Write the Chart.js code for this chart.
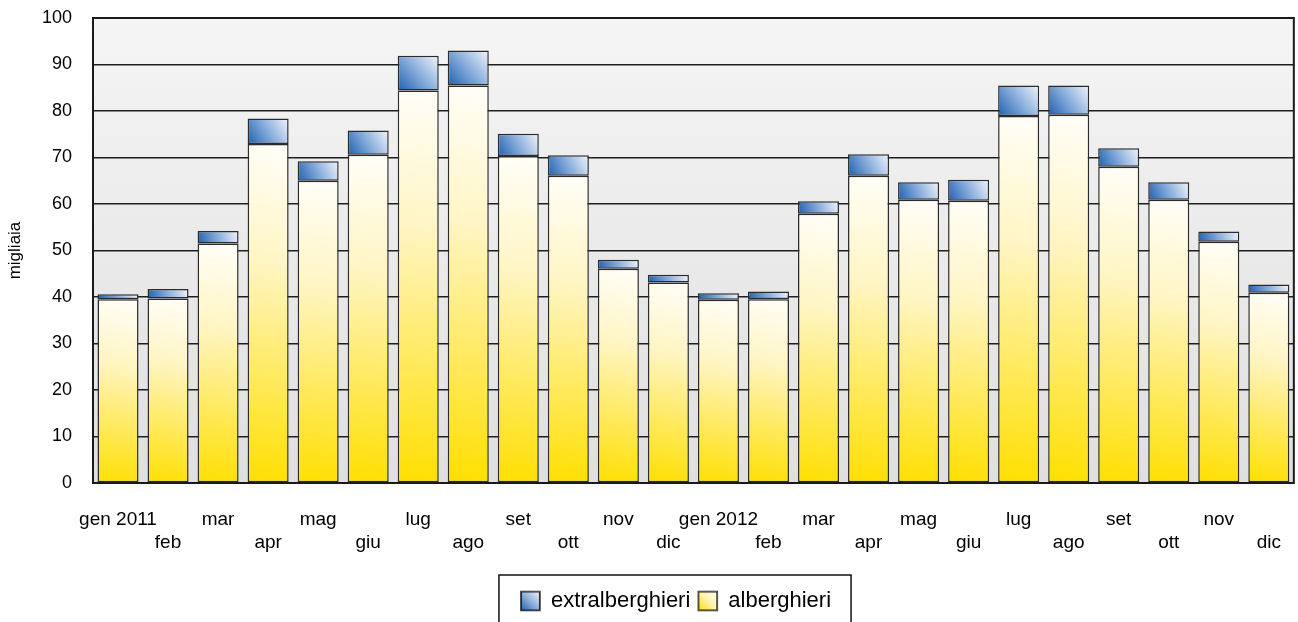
<!DOCTYPE html>
<html lang="it">
<head>
  <meta charset="UTF-8">
  <title>Presenze alberghieri / extralberghieri</title>
  <script src="https://cdn.jsdelivr.net/npm/chart.js"></script>
  <style>
    html, body { margin: 0; padding: 0; background: #fff; }
    .chart-box { width: 1298px; height: 622px; position: relative; }
  </style>
</head>
<body>

<div class="chart-box">
  <canvas id="myChart"></canvas>
</div>

<script>
// dati (migliaia)
const mesi = ['gen 2011', 'feb', 'mar', 'apr', 'mag', 'giu', 'lug', 'ago', 'set', 'ott', 'nov', 'dic',
              'gen 2012', 'feb', 'mar', 'apr', 'mag', 'giu', 'lug', 'ago', 'set', 'ott', 'nov', 'dic'];

const alberghieri = [39.5, 39.7, 51.5, 72.9, 65.0, 70.6, 84.4, 85.5, 70.3, 66.1, 46.1, 43.1,
                     39.4, 39.5, 57.9, 66.1, 60.9, 60.7, 78.9, 79.2, 68.0, 60.9, 51.9, 40.9];

const extralberghieri = [1.1, 2.0, 2.7, 5.5, 4.2, 5.2, 7.5, 7.5, 4.8, 4.4, 1.9, 1.7,
                         1.4, 1.7, 2.7, 4.6, 3.8, 4.5, 6.6, 6.3, 4.0, 3.8, 2.2, 1.8];

const FONT = "'Liberation Sans', Arial, sans-serif";
const BAR_PCT = 0.82;

// gradient per ogni barra, calcolato dalle scale
function barFill(context, kind) {
  const chart = context.chart;
  const xs = chart.scales.x, ys = chart.scales.y;
  if (!xs || !ys || !chart.chartArea || context.type !== 'data') {
    return kind === 'a' ? '#fff0a0' : '#7fa7d6';
  }
  const i = context.dataIndex;
  const xc = xs.getPixelForValue(i);
  const half = xs.width / mesi.length * BAR_PCT / 2;
  let lo, hi;
  if (kind === 'a') { lo = 0; hi = alberghieri[i]; }
  else { lo = alberghieri[i]; hi = alberghieri[i] + extralberghieri[i]; }
  const yTop = ys.getPixelForValue(hi), yBot = ys.getPixelForValue(lo);
  const ctx = chart.ctx;
  let g;
  if (kind === 'a') {
    g = ctx.createLinearGradient(xc + half, yTop, xc - half, yBot);
    g.addColorStop(0, '#fffef8');
    g.addColorStop(0.35, '#fff5c4');
    g.addColorStop(1, '#ffdf00');
  } else {
    g = ctx.createLinearGradient(xc - half, yBot, xc + half, yTop);
    g.addColorStop(0, '#1f5fae');
    g.addColorStop(0.45, '#7ea6d8');
    g.addColorStop(1, '#f2f6fc');
  }
  return g;
}

// sfondo area grafico e cornice
const plotFrame = {
  id: 'plotFrame',
  beforeDraw(chart) {
    const {ctx, chartArea: a} = chart;
    const g = ctx.createLinearGradient(0, a.top, 0, a.bottom);
    g.addColorStop(0, '#f5f5f5');
    g.addColorStop(1, '#dfdfdf');
    ctx.save();
    ctx.fillStyle = g;
    ctx.fillRect(a.left, a.top, a.right - a.left, a.bottom - a.top);
    ctx.restore();
  },
  afterDatasetsDraw(chart) {
    const {ctx, chartArea: a} = chart;
    ctx.save();
    ctx.strokeStyle = '#1a1a1a';
    ctx.lineWidth = 2;
    ctx.strokeRect(a.left, a.top, a.right - a.left, a.bottom - a.top);
    ctx.restore();
  }
};

// sposta la legenda un po' a destra, come nell'originale
const LEGEND_SHIFT = 28;

// riquadri legenda con gradient e bordo
const legendBox = {
  id: 'legendBox',
  afterLayout(chart) {
    if (chart.legend) {
      chart.legend.left += LEGEND_SHIFT;
      chart.legend.right += LEGEND_SHIFT;
    }
  },
  afterDraw(chart) {
    const lg = chart.legend;
    if (!lg || !lg.legendHitBoxes || !lg.legendHitBoxes.length) return;
    const ctx = chart.ctx;
    const lab = lg.options.labels;
    const fs = lab.font.size;
    const hb = lg.legendHitBoxes;
    ctx.save();
    hb.forEach((h, k) => {
      const y0 = h.top + Math.max((fs - lab.boxHeight) / 2, 0);
      const x0 = h.left;
      const blue = lg.legendItems[k].text === 'extralberghieri';
      const g = ctx.createLinearGradient(x0, y0 + lab.boxHeight, x0 + lab.boxWidth, y0);
      if (blue) {
        g.addColorStop(0, '#1f5fae'); g.addColorStop(0.5, '#8fb2dd'); g.addColorStop(1, '#f2f6fc');
      } else {
        g.addColorStop(0, '#ffdf00'); g.addColorStop(0.5, '#fff3a8'); g.addColorStop(1, '#fffef8');
      }
      ctx.fillStyle = g;
      ctx.fillRect(x0, y0, lab.boxWidth, lab.boxHeight);
      ctx.strokeStyle = '#222';
      ctx.lineWidth = 1;
      ctx.strokeRect(x0 + 0.5, y0 + 0.5, lab.boxWidth - 1, lab.boxHeight - 1);
    });
    const left = Math.min(...hb.map(h => h.left)) - 22;
    const right = Math.max(...hb.map(h => h.left + h.width)) + 20;
    const top = hb[0].top - 15;
    ctx.strokeStyle = '#111';
    ctx.lineWidth = 1.5;
    ctx.strokeRect(left, top, right - left, chart.height - top + 10);
    ctx.restore();
  }
};

const ctx = document.getElementById('myChart');

const chart = new Chart(ctx, {
  type: 'bar',
  data: {
    labels: mesi,
    datasets: [
      {
        label: 'alberghieri',
        data: alberghieri,
        backgroundColor: (c) => barFill(c, 'a'),
        borderColor: '#2b2b2b',
        borderWidth: 1.5,
        borderSkipped: false,
        barPercentage: BAR_PCT,
        categoryPercentage: 1
      },
      {
        label: 'extralberghieri',
        data: extralberghieri,
        backgroundColor: (c) => barFill(c, 'e'),
        borderColor: '#2b2b2b',
        borderWidth: 1.5,
        borderSkipped: false,
        barPercentage: BAR_PCT,
        categoryPercentage: 1
      }
    ]
  },
  options: {
    responsive: true,
    maintainAspectRatio: false,
    animation: false,
    layout: { padding: { top: 18, right: 2, bottom: 0, left: 0 } },
    plugins: {
      tooltip: { enabled: false },
      legend: {
        position: 'bottom',
        reverse: true,
        labels: {
          boxWidth: 19,
          boxHeight: 19,
          padding: 8,
          color: '#000',
          font: { family: FONT, size: 22 }
        }
      }
    },
    scales: {
      x: {
        stacked: true,
        grid: { display: false },
        border: { display: false },
        afterFit: (s) => { s.height = 99; },
        ticks: {
          autoSkip: false,
          maxRotation: 0,
          padding: 17,
          color: '#000',
          font: { family: FONT, size: 19, lineHeight: 1.22 },
          callback: function (val, i) {
            const l = this.getLabelForValue(val);
            return i % 2 === 0 ? [l, ''] : ['', l];
          }
        }
      },
      y: {
        stacked: true,
        min: 0,
        max: 100,
        afterFit: (s) => {
          s.width = 93;
          s.paddingTop = 0;
          s.paddingBottom = 0;
        },
        grid: { color: '#1e1e1e', lineWidth: 1.5, drawTicks: false },
        border: { display: false },
        ticks: {
          stepSize: 10,
          padding: 21,
          color: '#000',
          font: { family: FONT, size: 18 }
        },
        title: {
          display: true,
          text: 'migliaia',
          color: '#000',
          padding: { top: 5, bottom: 0 },
          font: { family: FONT, size: 17 }
        }
      }
    }
  },
  plugins: [plotFrame, legendBox]
});
</script>
</body>
</html>
